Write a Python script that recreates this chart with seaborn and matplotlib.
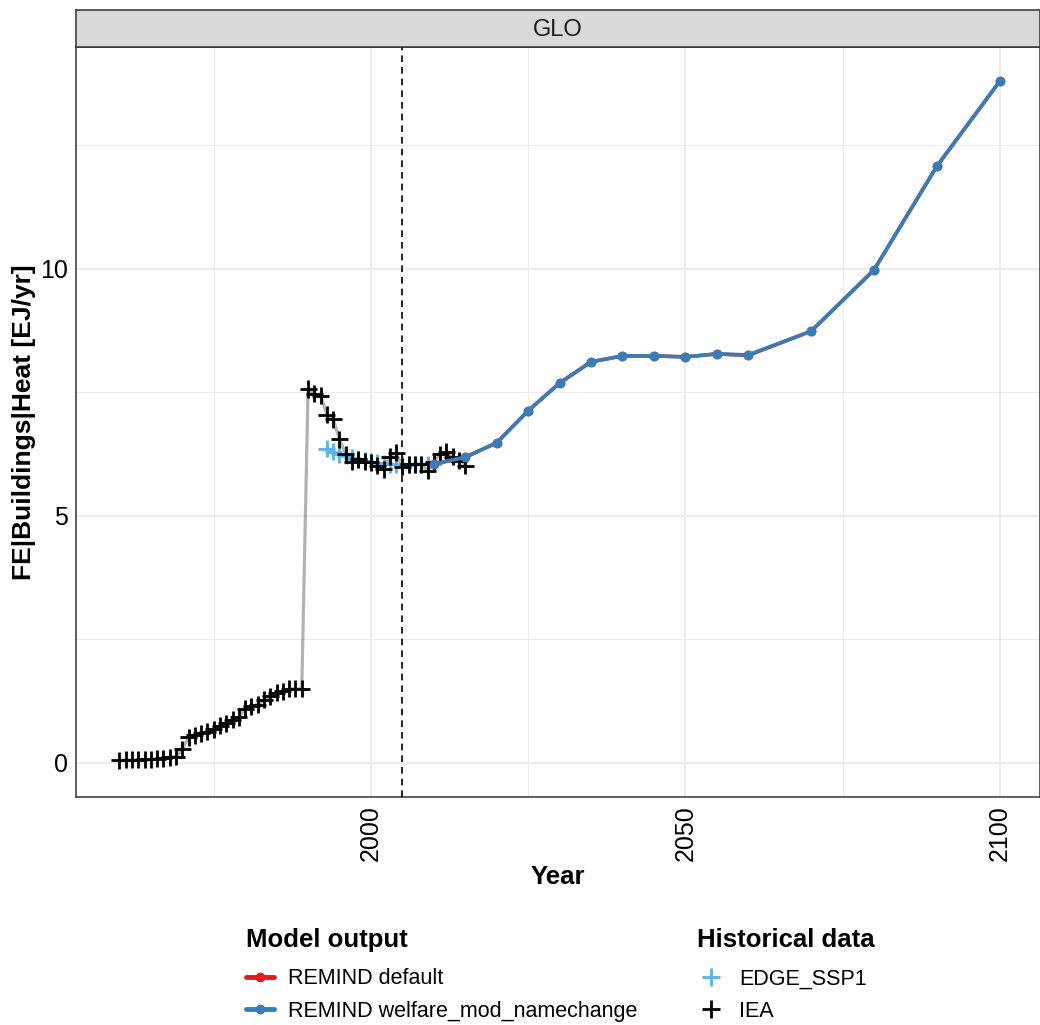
import numpy as np
import pandas as pd
import matplotlib.pyplot as plt
import seaborn as sns
from matplotlib.lines import Line2D

# Data
iea_years = list(range(1960, 2016))
iea_values = [0.05, 0.06, 0.06, 0.06, 0.07, 0.07, 0.09, 0.10, 0.12, 0.13,
              0.28, 0.52, 0.56, 0.60, 0.63, 0.68, 0.75, 0.80, 0.87, 0.93,
              1.10, 1.15, 1.18, 1.28, 1.35, 1.42, 1.45, 1.50, 1.50, 1.50,
              7.57, 7.47, 7.43, 7.05, 6.96, 6.55, 6.25, 6.10, 6.15, 6.10,
              6.09, 6.02, 5.95, 6.20, 6.28, 6.00, 6.05, 6.05, 6.05, 5.92,
              6.10, 6.25, 6.30, 6.20, 6.12, 6.02]

edge_years = list(range(1993, 2011))
edge_values = [6.36, 6.30, 6.25, 6.22, 6.18, 6.15, 6.12, 6.10, 6.08, 6.06,
               6.05, 6.05, 6.04, 6.04, 6.05, 6.05, 6.05, 6.06]

remind_years = [2010, 2015, 2020, 2025, 2030, 2035, 2040, 2045, 2050, 2055,
                2060, 2070, 2080, 2090, 2100]
remind_default = [6.05, 6.19, 6.48, 7.13, 7.69, 8.12, 8.24, 8.24, 8.22, 8.28,
                  8.25, 8.74, 9.98, 12.08, 13.80]
remind_welfare = [6.05, 6.19, 6.48, 7.13, 7.69, 8.12, 8.24, 8.24, 8.22, 8.28,
                  8.26, 8.74, 9.98, 12.08, 13.80]

model_names = ["REMIND default", "REMIND welfare_mod_namechange"]
model_colors = ["#E41A1C", "#377EB8"]
hist_names = ["EDGE_SSP1", "IEA"]
hist_colors = ["#56B4E9", "black"]

df_model = pd.DataFrame({
    "year": remind_years * 2,
    "value": remind_default + remind_welfare,
    "model": [model_names[0]] * len(remind_years) + [model_names[1]] * len(remind_years),
})
df_hist = pd.DataFrame({
    "year": edge_years + iea_years,
    "value": edge_values + iea_values,
    "source": [hist_names[0]] * len(edge_years) + [hist_names[1]] * len(iea_years),
})

sns.set_theme(style="whitegrid")
plt.rcParams["font.family"] = ["Liberation Sans", "DejaVu Sans"]
plt.rcParams["text.color"] = "black"

fig = plt.figure(figsize=(10.4, 10.25), dpi=100)
ax = fig.add_axes([0.0731, 0.2224, 0.9269, 0.7316])

# Historical lines (faint) and crosses
sns.lineplot(data=df_hist, x="year", y="value", hue="source", hue_order=hist_names,
             palette=hist_colors, alpha=0.3, linewidth=2.3, legend=False, ax=ax)
sns.scatterplot(data=df_hist, x="year", y="value", hue="source", hue_order=hist_names,
                palette=hist_colors, marker="+", s=150, linewidth=2.0, legend=False,
                ax=ax, zorder=3)

# Model output
sns.lineplot(data=df_model, x="year", y="value", hue="model", hue_order=model_names,
             palette=model_colors, linewidth=2.6, marker="o", markersize=7,
             markeredgewidth=0, legend=False, ax=ax, zorder=4)

ax.axvline(2005, color="black", linestyle=(0, (4, 3)), linewidth=1.2, zorder=5)

ax.set_xlim(1953.1, 2106.4)
ax.set_ylim(-0.69, 14.49)
ax.set_xticks([2000, 2050, 2100])
ax.set_xticks([1975, 2025, 2075], minor=True)
ax.set_yticks([0, 5, 10])
ax.set_yticks([2.5, 7.5, 12.5], minor=True)
ax.grid(which="major", color="#EBEBEB", linewidth=1.3)
ax.grid(which="minor", color="#EBEBEB", linewidth=0.7)
ax.set_facecolor("white")
for sp in ax.spines.values():
    sp.set_color("#333333")
    sp.set_linewidth(1.1)
ax.tick_params(axis="both", which="major", length=4, width=1.1, color="#333333",
               labelsize=18, labelcolor="black", pad=2)
ax.tick_params(axis="both", which="minor", length=0)
ax.tick_params(axis="x", labelrotation=90)
ax.set_xlabel("Year", fontsize=18.5, fontweight="bold", labelpad=3, color="black")
ax.set_ylabel("FE|Buildings|Heat [EJ/yr]", fontsize=19, fontweight="bold",
              labelpad=3, color="black")

# Facet strip
strip = fig.add_axes([0.0731, 0.9541, 0.9269, 0.0361])
strip.set_xticks([])
strip.set_yticks([])
strip.set_facecolor("#D9D9D9")
for sp in strip.spines.values():
    sp.set_color("#333333")
    sp.set_linewidth(1.1)
strip.text(0.5, 0.47, "GLO", ha="center", va="center", fontsize=17, color="#1A1A1A",
           transform=strip.transAxes)

# Legends
model_handles = [Line2D([], [], color=c, linewidth=3.5, marker="o", markersize=6)
                 for c in model_colors]
hist_handles = [Line2D([], [], color=c, linestyle="none", marker="+", markersize=13,
                       markeredgewidth=2.0) for c in hist_colors]

leg1 = fig.legend(model_handles, model_names, loc="upper left",
                  bbox_to_anchor=(0.218, 0.114), frameon=False,
                  title="Model output", fontsize=15.5, handlelength=1.3,
                  handletextpad=0.65, labelspacing=0.55, alignment="left")
leg1.get_title().set_fontsize(18.5)
leg1.get_title().set_fontweight("bold")

leg2 = fig.legend(hist_handles, hist_names, loc="upper left",
                  bbox_to_anchor=(0.652, 0.114), frameon=False,
                  title="Historical data", fontsize=15.5, handlelength=1.3,
                  handletextpad=0.65, labelspacing=0.55, alignment="left")
leg2.get_title().set_fontsize(18.5)
leg2.get_title().set_fontweight("bold")

for leg in (leg1, leg2):
    leg._legend_box.sep = 12

fig.savefig("out.png", dpi=100)
